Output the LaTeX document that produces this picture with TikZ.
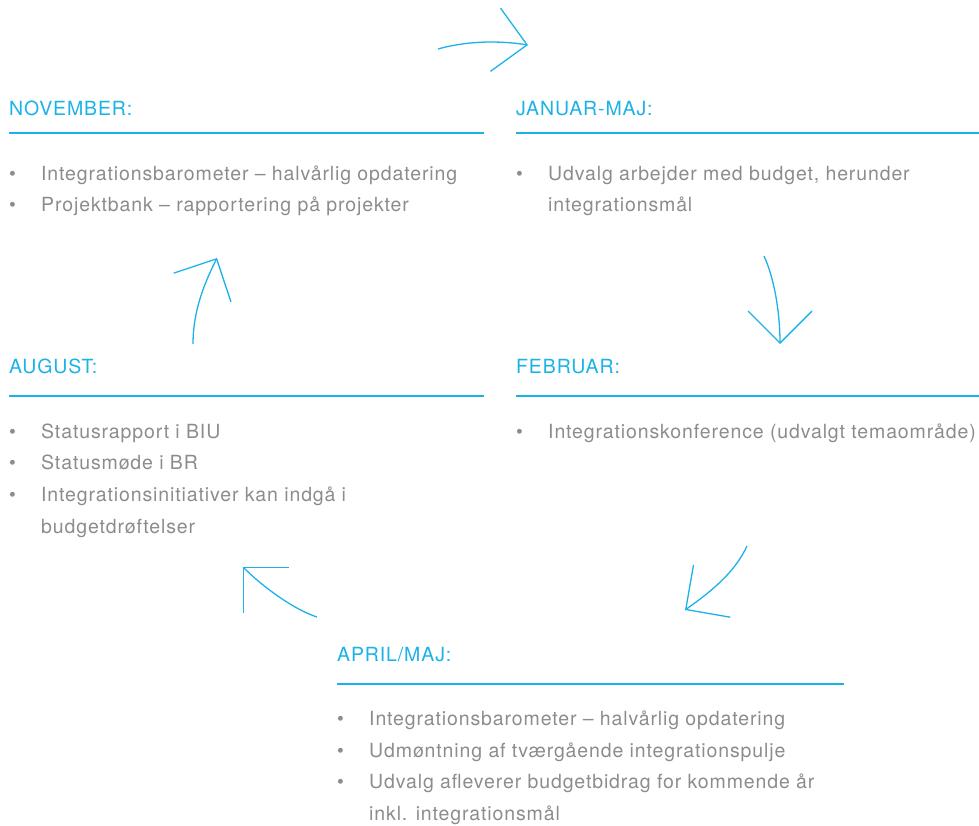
\documentclass[tikz,border=0pt]{standalone}
\usepackage{fontspec}
\setmainfont[LetterSpace=4.5]{TeX Gyre Heros}
\usetikzlibrary{arrows.meta,positioning}
\definecolor{kcyan}{HTML}{1AB2E8}
\definecolor{kgrey}{HTML}{8C8C8C}

\begin{document}
\begin{tikzpicture}[x=1pt,y=-1pt,every node/.style={inner sep=0pt,font=\fontsize{19.5}{30}\selectfont}]
\tikzstyle{head}=[anchor=base west,text=kcyan]
\tikzstyle{item}=[anchor=base west,text=kgrey]
\tikzstyle{dot}=[anchor=base west,text=kgrey]
\tikzstyle{rule}=[draw=kcyan,line width=1.3pt]
\tikzstyle{turn}=[draw=kcyan,line width=1.3pt,-{Straight Barb[length=32pt,width=64pt]}]

\useasboundingbox (0,0) rectangle (979,826);

% november
	\node[head] (nov) at (9,116) {NOVEMBER:};
	\draw[rule] (9,133) -- (484,133);
	\node[dot] (novb1) at (9,181) {•};
	\node[item] (novt1) at (41,181) {Integrationsbarometer – halvårlig opdatering};
	\node[dot] (novb2) at (9,212) {•};
	\node[item] (novt2) at (41,212) {Projektbank – rapportering på projekter};

% januar-maj
	\node[head] (jan) at (516,116) {JANUAR-MAJ:};
	\draw[rule] (516,133) -- (979,133);
	\node[dot] (janb1) at (516,181) {•};
	\node[item] (jant1) at (548,181) {Udvalg arbejder med budget, herunder};
	\node[item] (jant2) at (548,212) {integrationsmål};

% februar
	\node[head] (feb) at (516,373) {FEBRUAR:};
	\draw[rule] (516,396) -- (979,396);
	\node[dot] (febb1) at (516,438) {•};
	\node[item] (febt1) at (548,438) {Integrationskonference (udvalgt temaområde)};

% august
	\node[head] (aug) at (9,373) {AUGUST:};
	\draw[rule] (9,396) -- (484,396);
	\node[dot] (augb1) at (9,438) {•};
	\node[item] (augt1) at (41,438) {Statusrapport i BIU};
	\node[dot] (augb2) at (9,469) {•};
	\node[item] (augt2) at (41,469) {Statusmøde i BR};
	\node[dot] (augb3) at (9,501) {•};
	\node[item] (augt3) at (41,501) {Integrationsinitiativer kan indgå i};
	\node[item] (augt4) at (41,533) {budgetdrøftelser};

% april/maj
	\node[head] (apr) at (337,661) {APRIL/MAJ:};
	\draw[rule] (337,684) -- (844,684);
	\node[dot] (aprb1) at (337,725) {•};
	\node[item] (aprt1) at (369,725) {Integrationsbarometer – halvårlig opdatering};
	\node[dot] (aprb2) at (337,757) {•};
	\node[item] (aprt2) at (369,757) {Udmøntning af tværgående integrationspulje};
	\node[dot] (aprb3) at (337,788) {•};
	\node[item] (aprt3) at (369,788) {Udvalg afleverer budgetbidrag for kommende år};
	\node[item] (aprt4) at (369,820) {inkl. integrationsmål};

% arrows
	\coordinate (a1s) at (438,49);
	\coordinate (a1e) at (528,45);
	\coordinate (a2s) at (764,256);
	\coordinate (a2e) at (780,344);
	\coordinate (a3s) at (747,546);
	\coordinate (a3e) at (685,610);
	\coordinate (a4s) at (317,617);
	\coordinate (a4e) at (243,567);
	\coordinate (a5s) at (193,344);
	\coordinate (a5e) at (217,258);
	\draw[turn] (a1s) .. controls (470,40) and (503,41) .. (a1e);
	\draw[turn] (a2s) .. controls (775,280) and (780,315) .. (a2e);
	\draw[turn] (a3s) .. controls (735,572) and (712,591) .. (a3e);
	\draw[turn] (a4s) .. controls (295,610) and (264,588) .. (a4e);
	\draw[turn] (a5s) .. controls (193,310) and (205,282) .. (a5e);

\end{tikzpicture}
\end{document}
